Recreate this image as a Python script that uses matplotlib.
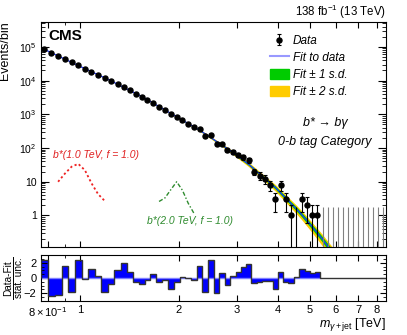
import numpy as np
import matplotlib.pyplot as plt
from matplotlib.lines import Line2D
from matplotlib.patches import Patch
from matplotlib.ticker import FixedLocator, FixedFormatter, NullFormatter, LogLocator, MultipleLocator

plt.rcParams['font.family'] = ['Liberation Sans', 'DejaVu Sans']
plt.rcParams['mathtext.fontset'] = 'custom'
plt.rcParams['mathtext.rm'] = 'Liberation Sans'
plt.rcParams['mathtext.it'] = 'Liberation Sans:italic'
plt.rcParams['mathtext.bf'] = 'Liberation Sans:bold'

# bin edges in TeV
bin_edges = [0.760, 0.799, 0.838, 0.879, 0.921, 0.966, 1.011, 1.059, 1.109, 1.162,
             1.216, 1.272, 1.331, 1.391, 1.449, 1.510, 1.571, 1.636, 1.704, 1.775,
             1.849, 1.927, 2.007, 2.090, 2.177, 2.267, 2.357, 2.450, 2.550, 2.652,
             2.752, 2.858, 2.970, 3.082, 3.196, 3.317, 3.451, 3.587, 3.715, 3.852,
             3.998, 4.146, 4.300, 4.463, 4.631, 4.813, 4.995, 5.172, 5.363, 5.559,
             5.757, 5.967, 6.180, 6.404, 6.632, 6.873, 7.123, 7.376, 7.644, 7.916,
             8.204, 8.502]

# observed events per bin
data_counts = [85600, 66880, 53490, 43733, 34564, 28485, 22685, 18563, 14937, 11902,
               9721, 7908, 6398, 5137, 4108, 3353, 2694, 2173, 1679, 1339,
               1024, 834, 676, 533, 419, 366, 233, 237, 132, 131,
               87, 76, 62, 53, 43, 20, 15, 12, 8, 3,
               8, 3, 1, 0, 3, 2, 1, 1]

# fit function evaluated per bin
fit_values = [84900, 67500, 54000, 43400, 34900, 28100, 22700, 18400, 14900, 12100,
              9800, 7820, 6240, 5080, 4140, 3400, 2710, 2150, 1700, 1350,
              1070, 849, 673, 533, 423, 337, 262, 204, 157, 123,
              96.0, 73.1, 56.0, 43.0, 33.0, 23.8, 17.0, 12.5, 9.21, 6.78,
              4.69, 3.26, 2.27, 1.57, 1.06, 0.691, 0.456, 0.303, 0.197, 0.125,
              0.080, 0.051]

# relative 1 s.d. fit uncertainty
fit_unc = [0.010, 0.009, 0.008, 0.008, 0.007, 0.007, 0.007, 0.007, 0.007, 0.007,
           0.008, 0.008, 0.009, 0.010, 0.011, 0.012, 0.013, 0.014, 0.016, 0.018,
           0.020, 0.022, 0.025, 0.028, 0.031, 0.034, 0.038, 0.042, 0.046, 0.050,
           0.055, 0.060, 0.065, 0.070, 0.076, 0.082, 0.088, 0.095, 0.102, 0.109,
           0.117, 0.125, 0.133, 0.141, 0.150, 0.159, 0.168, 0.178, 0.188, 0.198,
           0.209, 0.220]

# (data - fit) / stat. unc.
residuals = [2.4, -2.4, -2.2, 1.6, -1.8, 2.3, -0.1, 1.2, 0.3, -1.8,
             -0.8, 1.0, 2.0, 0.8, -0.5, -0.8, -0.3, 0.5, -0.5, -0.3,
             -1.4, -0.5, 0.1, 0.0, -0.2, 1.6, -1.8, 2.3, -2.0, 0.7,
             -0.9, 0.3, 0.8, 1.5, 1.8, -0.6, -0.5, -0.4, -0.4, -1.5,
             0.8, -0.5, -0.6, 0.1, 1.2, 0.9, 0.6, 0.8]

# signal shapes
sig1_mass = [0.858, 0.900, 0.943, 0.988, 1.035, 1.084, 1.135, 1.189]
sig1_vals = [10, 17.5, 28, 34, 22, 9, 4.3, 2.7]
sig2_mass = [1.739, 1.812, 1.888, 1.967, 2.048, 2.133, 2.221]
sig2_vals = [2.6, 3.3, 5.8, 10, 5.6, 2.3, 1.15]

zero_upper = 1.84   # 68% upper limit for an empty bin
y_low, y_high = 0.116, 5.6e5

edges = np.array(bin_edges)
centers = np.sqrt(edges[:-1] * edges[1:])
counts = np.array(data_counts, dtype=float)
cx = centers[:len(counts)]
fc = np.array(fit_values)
fx = centers[:len(fc)]
su = np.array(fit_unc)

fig = plt.figure(figsize=(4.07, 3.35), dpi=100)
ax = fig.add_axes([0.1002, 0.2627, 0.8477, 0.6725])
ax2 = fig.add_axes([0.1002, 0.1015, 0.8477, 0.1373])

ax.set_xscale('log')
ax.set_yscale('log')
ax.set_xlim(edges[0], edges[-1])
ax.set_ylim(y_low, y_high)

# fit bands and line
ax.fill_between(fx, fc * (1 - 2 * su), fc * (1 + 2 * su), color='#ffcc00', lw=0, zorder=1)
ax.fill_between(fx, fc * (1 - su), fc * (1 + su), color='#00cc00', lw=0, zorder=2)
ax.plot(fx, fc, color='#2030ff', lw=0.9, zorder=3)

# data
nz = counts > 0
err = np.sqrt(counts)
lo = np.minimum(err, counts - 1e-3)
data_h = ax.errorbar(cx[nz], counts[nz], yerr=[lo[nz], err[nz]], fmt='o', ms=3.6,
                     color='black', ecolor='black', elinewidth=0.8, capsize=1.2,
                     capthick=0.8, zorder=5)
ax.vlines(cx[~nz], y_low, zero_upper, color='black', lw=0.8, zorder=5)
ax.vlines(centers[len(counts):], y_low, zero_upper, color='#808080', lw=0.8, zorder=4)

# signals
ax.plot(sig1_mass, sig1_vals, color='#ee2222', ls=(0, (1.2, 1.4)), lw=1.3, zorder=4)
ax.plot(sig2_mass, sig2_vals, color='#2e8b2e', ls=(0, (3, 1.5, 1, 1.5)), lw=1.0, zorder=4)
ax.text(0.035, 0.408, 'b*(1.0 TeV, f = 1.0)', transform=ax.transAxes, color='#e02020',
        fontsize=7.5, style='italic', va='center')
ax.text(0.308, 0.117, 'b*(2.0 TeV, f = 1.0)', transform=ax.transAxes, color='#2e8b2e',
        fontsize=7.5, style='italic', va='center')

# labels
ax.text(0.021, 0.968, 'CMS', transform=ax.transAxes, fontsize=11, fontweight='bold',
        va='top', ha='left')
ax.text(1.0, 1.004, r'138 fb$^{-1}$ (13 TeV)', transform=ax.transAxes, fontsize=8.3,
        ha='right', va='bottom')
ax.text(0.824, 0.55, 'b* → bγ', transform=ax.transAxes, fontsize=9, style='italic',
        ha='center', va='center')
ax.text(0.824, 0.467, '0-b tag Category', transform=ax.transAxes, fontsize=9,
        style='italic', ha='center', va='center')

handles = [data_h, Line2D([], [], color='#9999ff', lw=1.5),
           Patch(color='#00cc00'), Patch(color='#ffcc00')]
labels = ['Data', 'Fit to data', 'Fit ± 1 s.d.', 'Fit ± 2 s.d.']
ax.legend(handles, labels, loc='upper left', bbox_to_anchor=(0.664, 0.941),
          frameon=False, prop={'style': 'italic', 'size': 8.5}, handlelength=1.6,
          handleheight=0.9, handletextpad=0.37, labelspacing=0.42, borderpad=0,
          borderaxespad=0)

# axes styling, upper panel
xt = [0.8, 1, 2, 3, 4, 5, 6, 7, 8]
xt_labels = [r'$8\times10^{-1}$', '1', '2', '3', '4', '5', '6', '7', '8']
ax.xaxis.set_major_locator(FixedLocator(xt))
ax.xaxis.set_minor_locator(FixedLocator([0.9]))
ax.xaxis.set_major_formatter(NullFormatter())
ax.xaxis.set_minor_formatter(NullFormatter())
ax.yaxis.set_major_locator(FixedLocator([1, 10, 100, 1e3, 1e4, 1e5]))
ax.yaxis.set_major_formatter(FixedFormatter(['1', '10', r'$10^{2}$', r'$10^{3}$',
                                             r'$10^{4}$', r'$10^{5}$']))
ax.yaxis.set_minor_locator(LogLocator(base=10, subs=np.arange(2, 10), numticks=20))
ax.yaxis.set_minor_formatter(NullFormatter())
ax.tick_params(which='both', direction='in', top=True, right=True, labelsize=7.5, pad=3)
ax.tick_params(axis='y', which='major', length=5.5)
ax.tick_params(axis='y', which='minor', length=2.8)
ax.tick_params(axis='x', which='major', length=4)
ax.tick_params(axis='x', which='minor', length=2.5)
ax.set_ylabel('Events/bin', fontsize=9, loc='top')
ax.yaxis.set_label_coords(-0.086, 1.0)

# lower panel
res = np.concatenate([residuals, np.zeros(len(centers) - len(residuals))])
ax2.set_xscale('log')
ax2.set_xlim(edges[0], edges[-1])
ax2.set_ylim(-3, 3)
ax2.stairs(res, edges, fill=True, color='#0000ff', lw=0, zorder=1)
ax2.plot([edges[0], edges[len(residuals)]], [0, 0], color='#7f7fff', lw=1, zorder=2)
ax2.stairs(res, edges, color='#333333', lw=1.0, zorder=3)

ax2.xaxis.set_major_locator(FixedLocator(xt))
ax2.xaxis.set_major_formatter(FixedFormatter(xt_labels))
ax2.xaxis.set_minor_locator(FixedLocator([0.9]))
ax2.xaxis.set_minor_formatter(NullFormatter())
ax2.set_yticks([-2, 0, 2])
ax2.yaxis.set_minor_locator(MultipleLocator(0.5))
ax2.tick_params(which='both', direction='in', top=True, right=True, labelsize=8, pad=3)
ax2.tick_params(which='major', length=4)
ax2.tick_params(which='minor', length=2.2)
ax2.set_xlabel(r'$m_{\gamma+\mathrm{jet}}$ [TeV]', fontsize=9, loc='right')
ax2.xaxis.set_label_coords(1.0, -0.52)
ax2.xaxis.label.set_va('center')

# ratio y title drawn as a fraction
ymid = (335 - 278) / 335
fig.text(8.5 / 407, ymid, 'Data-Fit', rotation=90, ha='center', va='center', fontsize=7.2)
fig.text(18.5 / 407, ymid, 'stat. unc.', rotation=90, ha='center', va='center', fontsize=7.2)
fig.add_artist(Line2D([13.2 / 407, 13.2 / 407], [(335 - 257) / 335, (335 - 299) / 335],
                      color='black', lw=0.7, transform=fig.transFigure))

for a in (ax, ax2):
    for sp in a.spines.values():
        sp.set_linewidth(0.8)

fig.savefig('out.png', dpi=100)
